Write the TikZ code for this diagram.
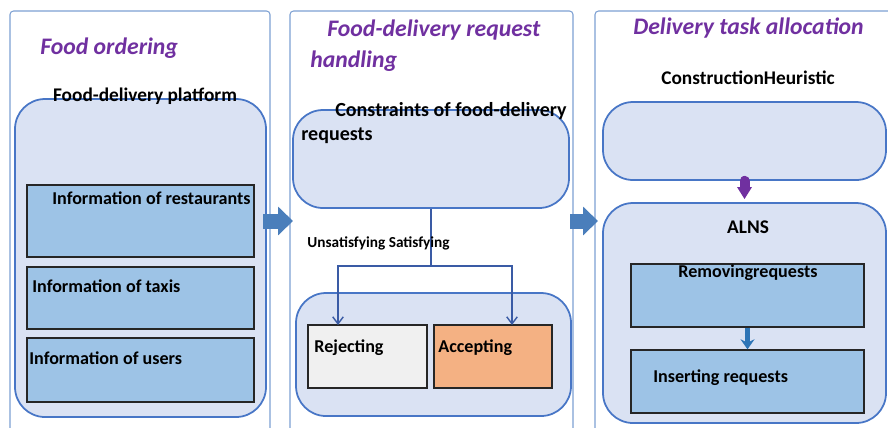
\documentclass[tikz,border=0pt]{standalone}
\usepackage{fontspec}
\setmainfont{Carlito}
\usetikzlibrary{positioning,fit,arrows.meta}

\definecolor{panelline}{RGB}{125,160,210}
\definecolor{groupline}{RGB}{72,118,198}
\definecolor{groupfill}{RGB}{218,226,243}
\definecolor{infofill}{RGB}{157,195,230}
\definecolor{rejfill}{RGB}{240,240,240}
\definecolor{accfill}{RGB}{244,177,131}
\definecolor{headpurple}{RGB}{112,48,160}
\definecolor{flowblue}{RGB}{74,126,187}
\definecolor{branchblue}{RGB}{58,91,165}
\definecolor{stepblue}{RGB}{46,117,182}

\begin{document}
\begin{tikzpicture}[x=0.02cm, y=-0.02cm,
  panel/.style={draw=panelline, line width=0.6pt, rounded corners=2pt, inner sep=0pt},
  group/.style={draw=groupline, fill=groupfill, line width=1pt, rounded corners=0.6cm, inner sep=0pt},
  info/.style={draw=black!85, fill=infofill, line width=0.8pt, inner sep=0pt},
  head/.style={text=headpurple, font=\fontsize{13.5}{16}\selectfont\bfseries\itshape, inner sep=0pt, anchor=base west},
  lbl/.style={font=\fontsize{11}{13}\selectfont\bfseries, inner sep=0pt, anchor=base west},
  boxlbl/.style={lbl, font=\fontsize{10.3}{12}\selectfont\bfseries},
  flow/.style={flowblue, line width=0.3cm, -{Triangle[length=0.3cm, width=0.56cm]}},
  branch/.style={draw=branchblue, line width=0.8pt},
]
\def\infoL{27}
\def\infoR{254}
\def\taskL{631}
\def\taskR{864}

\useasboundingbox (0,0) rectangle (888,427);
\clip (0,0) rectangle (888,427);

\node[panel, fit={(10,11) (270,445)}] (ordering) {};
\node[panel, fit={(290,11) (573,445)}] (handling) {};
\node[panel, fit={(595,11) (900,445)}] (allocation) {};

\node[head] (h1) at (40,54) {Food ordering};
\node[head] (h2) at (327,36) {Food-delivery request};
\node[head] (h2b) at (310,67) {handling};
\node[head] (h3) at (633,34) {Delivery task allocation};

% food ordering
\node[group, fit={(15,99) (266,417)}] (platform) {};
\node[lbl, anchor=base] (platformtxt) at (145,101) {Food-delivery platform};
\node[info, fit={(\infoL,185) (\infoR,257)}] (rest) {};
\node[info, fit={(\infoL,267) (\infoR,329)}] (taxi) {};
\node[info, fit={(\infoL,338) (\infoR,402)}] (user) {};
\node[boxlbl] (resttxt) at (52,204) {Information of restaurants};
\node[boxlbl] (taxitxt) at (32,292) {Information of taxis};
\node[boxlbl] (usertxt) at (29,364) {Information of users};

% request handling
\node[group, fit={(293,110) (569,208)}] (cons) {};
\node[lbl, font=\fontsize{11.4}{13}\selectfont\bfseries] (constxt) at (335,116) {Constraints of food-delivery};
\node[lbl, font=\fontsize{11.4}{13}\selectfont\bfseries] (constxtb) at (301,140) {requests};
\node[group, fit={(296,293) (571,416)}] (decision) {};
\node[info, fill=rejfill, fit={(308,325) (427,388)}] (rej) {};
\node[info, fill=accfill, fit={(434,325) (552,388)}] (acc) {};
\node[boxlbl] (rejtxt) at (314,352) {Rejecting};
\node[boxlbl] (acctxt) at (438,352) {Accepting};

\coordinate (fork) at (431,266);
\coordinate (rejin) at (338,325);
\coordinate (accin) at (512,325);
\draw[branch] (cons.south) -- (fork);
\draw[branch, -{Straight Barb[length=4pt, width=6pt]}] (fork) -| (rejin);
\draw[branch, -{Straight Barb[length=4pt, width=6pt]}] (fork) -| (accin);
\node[lbl, font=\fontsize{8.7}{10}\selectfont\bfseries] (cond) at (307,247) {Unsatisfying Satisfying};

% task allocation
\node[lbl, anchor=base] (heurtxt) at (748,84) {ConstructionHeuristic};
\node[group, fit={(603,102) (886,180)}] (heur) {};
\node[group, fit={(603,203) (886,423)}] (alns) {};
\node[lbl, anchor=base] (alnstxt) at (748,233) {ALNS};
\node[info, fit={(\taskL,264) (\taskR,327)}] (rem) {};
\node[info, fit={(\taskL,350) (\taskR,413)}] (ins) {};
\node[boxlbl, anchor=base] (remtxt) at (748,277) {Removingrequests};
\node[boxlbl] (instxt) at (653,382) {Inserting requests};

\draw[headpurple, line width=0.2cm, line cap=round, shorten >=0.06cm,
  -{Triangle[length=0.24cm, width=0.28cm]}] (heur.south) -- (alns.north);
\draw[stepblue, line width=0.1cm, -{Stealth[length=0.2cm, width=0.28cm]}] (rem.south) -- (ins.north);

% between the stages
\coordinate (f1s) at (263,221);
\coordinate (f1e) at (293,221);
\coordinate (f2s) at (570,221);
\coordinate (f2e) at (598,221);
\draw[flow] (f1s) -- (f1e);
\draw[flow] (f2s) -- (f2e);

\end{tikzpicture}
\end{document}
